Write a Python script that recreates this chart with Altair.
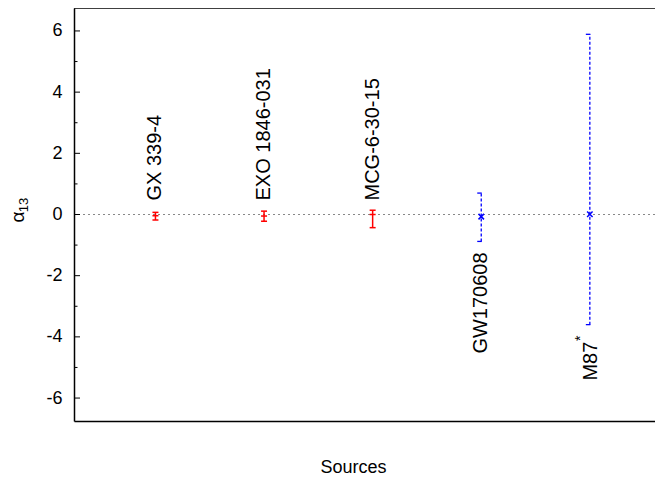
import altair as alt
import pandas as pd

# ---- data ----
sources = ["GX 339-4", "EXO 1846-031", "MCG-6-30-15", "GW170608", "M87"]
superscripts = ["", "", "", "", "*"]
positions = [1, 2, 3, 4, 5]
centers = [-0.04, -0.05, 0.0, -0.07, 0.01]
lowers = [-0.18, -0.22, -0.43, -0.88, -3.60]
uppers = [0.07, 0.11, 0.14, 0.70, 5.89]
kinds = ["xray", "xray", "xray", "other", "other"]

major_ticks = [-6, -4, -2, 0, 2, 4, 6]
minor_ticks = [-5, -3, -1, 1, 3, 5]

FONT = "Liberation Sans"
W, H = 581, 413
RED = "#ff0000"
BLUE = "#0000ff"

df = pd.DataFrame({
    "source": sources, "sup": superscripts, "pos": positions,
    "center": centers, "lower": lowers, "upper": uppers, "kind": kinds,
})
red = df[df.kind == "xray"]
blue = df[df.kind == "other"]
blue_plain = blue[blue.sup == ""]
blue_sup = blue[blue.sup != ""]

xscale = alt.Scale(domain=[0.25, 5.6], nice=False, zero=False)
yscale = alt.Scale(domain=[-6.75, 6.75], nice=False, zero=False)

xaxis = alt.Axis(labels=False, ticks=False, tickSize=0, domain=True, domainColor="black",
                 domainWidth=1.5, grid=False, title="Sources", titleFontSize=18,
                 titleFont=FONT, titleFontWeight="normal", titleColor="black",
                 titleX=279, titleY=46, titleBaseline="middle")
yaxis = alt.Axis(values=major_ticks, ticks=False, tickSize=0, domain=True, domainColor="black",
                 domainWidth=1.5, grid=False, labelFontSize=18, labelFont=FONT,
                 labelColor="black", labelPadding=12, title=None,
                 labelExpr="'' + datum.value")


def X(f):
    return alt.X(f"{f}:Q", scale=xscale, axis=xaxis)


def Y(f):
    return alt.Y(f"{f}:Q", scale=yscale, axis=yaxis)


zero_line = alt.Chart(df).mark_rule(color="#888888", strokeWidth=1, strokeDash=[2, 3]).encode(
    y=alt.Y(datum=0, scale=yscale, axis=yaxis)
)

major = alt.Chart(pd.DataFrame({"t": major_ticks})).mark_rule(color="black", strokeWidth=1).encode(
    y=Y("t"), x=alt.value(0), x2=alt.value(6)
)
minor = alt.Chart(pd.DataFrame({"t": minor_ticks})).mark_rule(color="black", strokeWidth=1).encode(
    y=Y("t"), x=alt.value(0), x2=alt.value(3.5)
)
top_border = alt.Chart(pd.DataFrame({"t": [0]})).mark_rule(color="black", strokeWidth=1.5).encode(
    y=alt.value(0), x=alt.value(0), x2=alt.value(W)
)

# red error bars (solid)
red_bar = alt.Chart(red).mark_rule(color=RED, strokeWidth=1.5).encode(
    x=X("pos"), y=Y("lower"), y2="upper")
red_cap_lo = alt.Chart(red).mark_rule(color=RED, strokeWidth=1.5, xOffset=-3, x2Offset=3).encode(
    x=X("pos"), x2="pos", y=Y("lower"))
red_cap_hi = alt.Chart(red).mark_rule(color=RED, strokeWidth=1.5, xOffset=-3, x2Offset=3).encode(
    x=X("pos"), x2="pos", y=Y("upper"))
red_pt = alt.Chart(red).mark_point(shape="M-1,0L1,0", size=36, color=RED, strokeWidth=1.5,
                                   filled=False, opacity=1).encode(x=X("pos"), y=Y("center"))

# blue error bars (dashed)
blue_bar = alt.Chart(blue).mark_rule(color=BLUE, strokeWidth=1.3, strokeDash=[3, 2]).encode(
    x=X("pos"), y=Y("lower"), y2="upper")
blue_cap_lo = alt.Chart(blue).mark_rule(color=BLUE, strokeWidth=1.3, xOffset=-4, x2Offset=0.5).encode(
    x=X("pos"), x2="pos", y=Y("lower"))
blue_cap_hi = alt.Chart(blue).mark_rule(color=BLUE, strokeWidth=1.3, xOffset=-4, x2Offset=0.5).encode(
    x=X("pos"), x2="pos", y=Y("upper"))
blue_pt = alt.Chart(blue).mark_point(shape="M-1,-1L1,1M-1,1L1,-1", size=30, color=BLUE,
                                     strokeWidth=1.5, filled=False, opacity=1).encode(
    x=X("pos"), y=Y("center"))

# source labels
red_lab = alt.Chart(red).mark_text(angle=270, align="left", baseline="middle", fontSize=20,
                                   font=FONT, color="black", yOffset=-14).encode(
    x=X("pos"), y=alt.Y(datum=0, scale=yscale, axis=yaxis), text="source")
blue_lab = alt.Chart(blue_plain).mark_text(angle=270, align="right", baseline="middle", fontSize=20,
                                           font=FONT, color="black", yOffset=11).encode(
    x=X("pos"), y=Y("lower"), text="source")
blue_lab2 = alt.Chart(blue_sup).mark_text(angle=270, align="right", baseline="middle", fontSize=20,
                                          font=FONT, color="black", yOffset=17, xOffset=1).encode(
    x=X("pos"), y=Y("lower"), text="source")
blue_star = alt.Chart(blue_sup).mark_text(angle=270, align="right", baseline="middle", fontSize=14,
                                          font=FONT, color="black", yOffset=11, xOffset=-9).encode(
    x=X("pos"), y=Y("lower"), text="sup")

# y-axis title: alpha with subscript 13
ytitle_a = alt.Chart(pd.DataFrame({"s": ["α"]})).mark_text(
    angle=270, align="center", baseline="middle", fontSize=19, font=FONT, color="black").encode(
    x=alt.value(-56), y=alt.value(209), text="s")
ytitle_b = alt.Chart(pd.DataFrame({"s": ["13"]})).mark_text(
    angle=270, align="center", baseline="middle", fontSize=13, font=FONT, color="black").encode(
    x=alt.value(-50), y=alt.value(197), text="s")

chart = alt.layer(
    zero_line, major, minor, top_border,
    red_bar, red_cap_lo, red_cap_hi, red_pt,
    blue_bar, blue_cap_lo, blue_cap_hi, blue_pt,
    red_lab, blue_lab, blue_lab2, blue_star,
    ytitle_a, ytitle_b,
).properties(
    width=W, height=H,
    autosize=alt.AutoSizeParams(type="none"),
    padding={"left": 66, "top": 0, "right": 0, "bottom": 57},
).configure_view(stroke="transparent", strokeWidth=0)

chart.save("out.html", embed_options={"renderer": "svg", "actions": False})
